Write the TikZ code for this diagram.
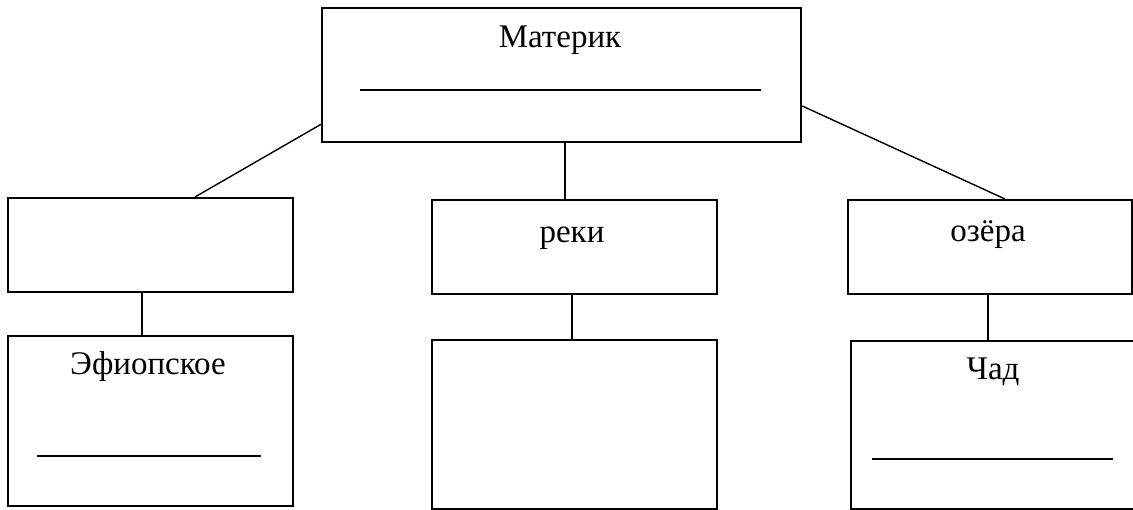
\documentclass[tikz,border=0pt]{standalone}
\usepackage{fontspec}
\setmainfont{Liberation Serif}
\usetikzlibrary{calc}
\begin{document}
\begin{tikzpicture}[x=1pt,y=-1pt,
  boxst/.style={draw,line width=2.3pt,rectangle,anchor=north west,inner sep=0pt},
  conn/.style={line width=1.4pt},
  ul/.style={line width=1.3pt},
  lbl/.style={anchor=base,inner sep=0pt,font=\fontsize{33}{38}\selectfont}]
\useasboundingbox[fill=white] (0,0) rectangle (1133,510);
% boxes
\node[boxst,minimum width=479pt,minimum height=134pt] (top) at (321,7) {};
\node[boxst,minimum width=285pt,minimum height=94pt] (b1) at (7,197) {};
\node[boxst,minimum width=285pt,minimum height=170pt] (c1) at (7,335) {};
\node[boxst,minimum width=285pt,minimum height=94pt] (b2) at (431,199) {};
\node[boxst,minimum width=285pt,minimum height=169pt] (c2) at (431,339) {};
\node[boxst,minimum width=284pt,minimum height=94pt] (b3) at (847,199) {};
\node[boxst,minimum width=300pt,minimum height=168pt] (c3) at (850,340) {};
% labels
\node[lbl] (t0) at (560,48) {Материк};
\node[lbl] (t1) at (148,375) {Эфиопское};
\node[lbl] (t2) at (572,243) {реки};
\node[lbl] (t3) at (988,242) {озёра};
\node[lbl] (t4) at (993,380) {Чад};
% underlines
\draw[ul] (360,90) -- (761,90);
\draw[ul] (37,456) -- (261,456);
\draw[ul] (872,459) -- (1113,459);
% connectors
\draw[conn] ($(top.south west)+(0,-19)$) -- (b1.north -| 195,0);
\draw[conn] (top.south -| 565,0) -- (b2.north -| 565,0);
\draw[conn] ($(top.north east)+(0,99)$) -- (b3.north -| 1005,0);
\draw[conn] (b1.south -| 142,0) -- (c1.north -| 142,0);
\draw[conn] (b2.south -| 572,0) -- (c2.north -| 572,0);
\draw[conn] (b3.south -| 988,0) -- (c3.north -| 988,0);
\end{tikzpicture}
\end{document}
